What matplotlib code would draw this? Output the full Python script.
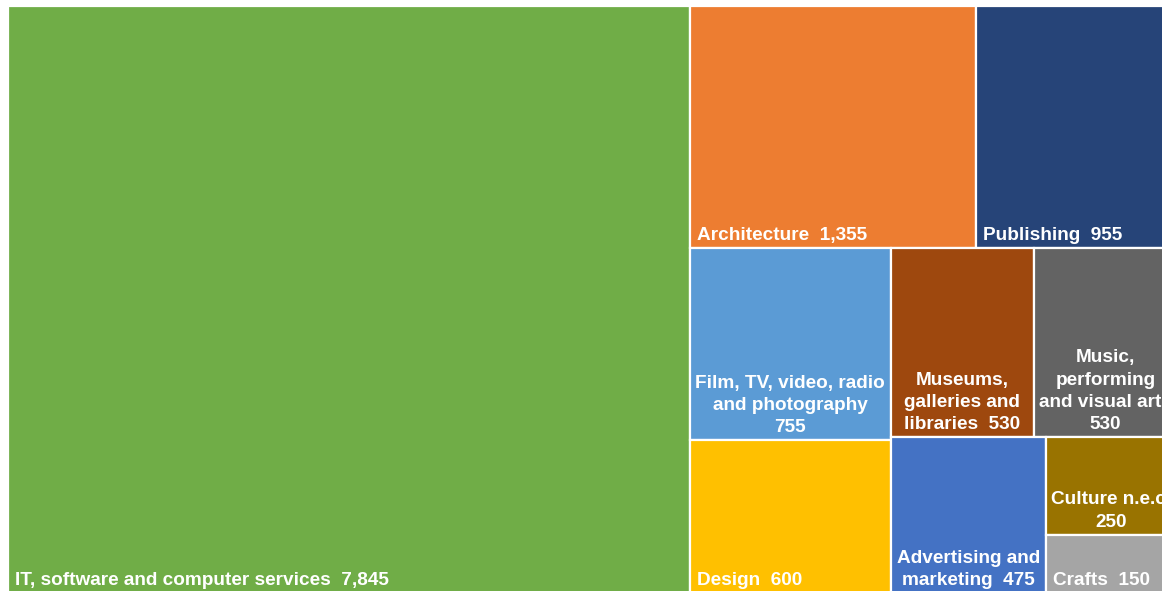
import matplotlib
matplotlib.use("Agg")
from matplotlib import pyplot as plt
from matplotlib.patches import Rectangle

names = ["IT, software and computer services", "Architecture", "Publishing",
         "Film, TV, video, radio\nand photography", "Design",
         "Museums,\ngalleries and\nlibraries", "Music,\nperforming\nand visual arts",
         "Advertising and\nmarketing", "Culture n.e.c.", "Crafts"]
values = [7845, 1355, 955, 755, 600, 530, 530, 475, 250, 150]
seps = ["  ", "  ", "  ", "\n", "  ", "  ", "\n", "  ", "\n", "  "]
colors = ["#70AD47", "#ED7D31", "#264478", "#5B9BD5", "#FFC000",
          "#9E480E", "#636363", "#4472C4", "#997300", "#A5A5A5"]


def worst(row, side):
    s = sum(row)
    return max(max(side**2 * r / s**2, s**2 / (side**2 * r)) for r in row)


def squarify(vals, x, y, w, h):
    # classic squarified treemap, vals already scaled to w*h
    rects = []
    vals = list(vals)
    while vals:
        side = min(w, h)
        row = [vals[0]]
        i = 1
        while i < len(vals) and worst(row + [vals[i]], side) <= worst(row, side):
            row.append(vals[i])
            i += 1
        s = sum(row)
        if w >= h:
            cw = s / h
            yy = y
            for v in row:
                rects.append((x, yy, cw, v / cw))
                yy += v / cw
            x += cw
            w -= cw
        else:
            rh = s / w
            xx = x
            for v in row:
                rects.append((xx, y, v / rh, rh))
                xx += v / rh
            y += rh
            h -= rh
        vals = vals[i:]
    return rects


fig = plt.figure(figsize=(11.62, 5.91), dpi=100)
# plot area runs a little past the right and bottom edges of the picture
W, H = 1169, 587
ax = fig.add_axes([8 / 1162, -2 / 591, W / 1162, H / 591])
ax.set_xlim(0, W)
ax.set_ylim(H, 0)
ax.axis("off")

total = sum(values)
scaled = [v * W * H / total for v in values]
rects = squarify(scaled, 0, 0, W, H)

for (x, y, w, h), name, v, sep, c in zip(rects, names, values, seps, colors):
    ax.add_patch(Rectangle((x, y), w, h, facecolor=c, edgecolor="white", linewidth=1.6))
    label = name + sep + f"{v:,}"
    if "\n" in label:
        tx, ha = x + w / 2, "center"
    else:
        tx, ha = x + 7, "left"
    ax.text(tx, y + h - 4, label, ha=ha, va="bottom", color="white",
            fontsize=13.7, fontweight="bold", family="Liberation Sans",
            linespacing=1.4, multialignment="center", clip_on=False)

fig.savefig("out.png", dpi=100)
